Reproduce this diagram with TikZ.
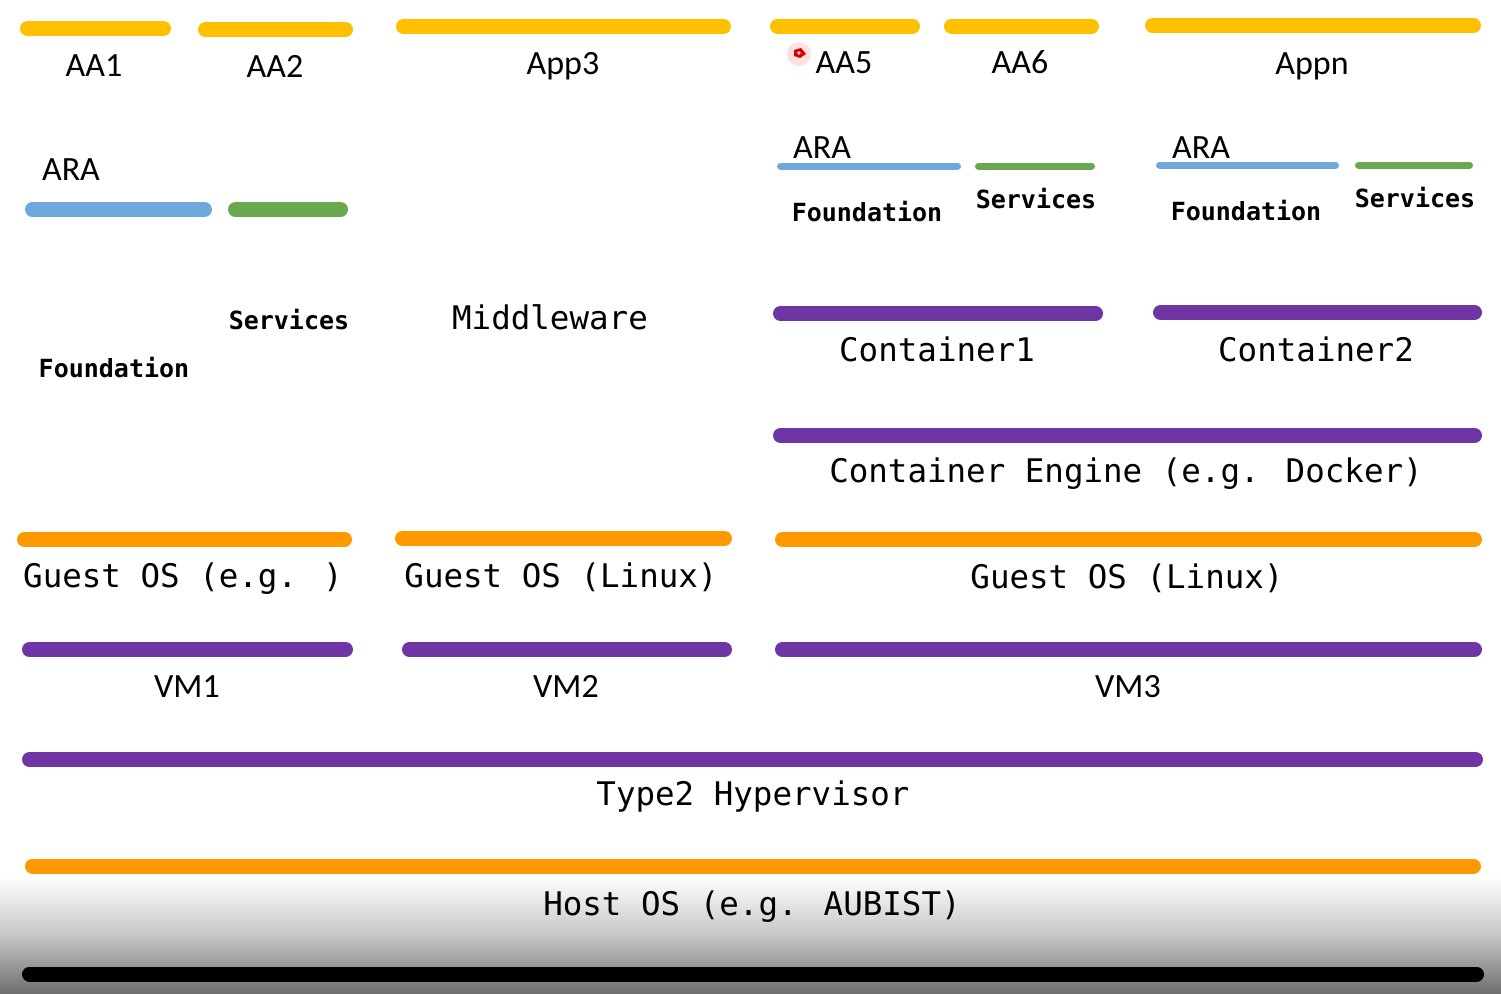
\documentclass[tikz,border=0pt]{standalone}
\usepackage{fontspec}
\setmainfont{Carlito}
\newfontfamily\monofont{DejaVu Sans Mono}
\definecolor{yel}{HTML}{FFC000}
\definecolor{org}{HTML}{FF9900}
\definecolor{pur}{HTML}{7035A5}
\definecolor{blu}{HTML}{6FA8DC}
\definecolor{grn}{HTML}{6AA84F}
\definecolor{shadegray}{HTML}{707070}
\tikzset{
  bar/.style={line width=15, line cap=round},
  thinbar/.style={line width=7, line cap=round},
  sanslbl/.style={font=\fontsize{34}{40}\selectfont, anchor=base, inner sep=0},
  monolbl/.style={font=\monofont\fontsize{32.5}{38}\selectfont, anchor=base, inner sep=0},
  monob/.style={font=\monofont\bfseries\fontsize{25}{30}\selectfont, anchor=base, inner sep=0},
}
\begin{document}
\begin{tikzpicture}[x=1pt,y=-1pt]
\useasboundingbox (0,0) rectangle (1501,993);
\fill[white] (0,0) rectangle (1501,993);
\shade[top color=white, bottom color=shadegray, middle color=black!22] (0,876) rectangle (1501,993);

% top application bars
\draw[bar,yel] (27.5,28.5) -- (163.5,28.5);
\draw[bar,yel] (205.5,29.5) -- (345.5,29.5);
\draw[bar,yel] (403.5,26.5) -- (723.5,26.5);
\draw[bar,yel] (777.5,26) -- (912.5,26);
\draw[bar,yel] (951.5,26) -- (1091.5,26);
\draw[bar,yel] (1152.5,25.5) -- (1473.5,25.5);
\node[sanslbl] (aa1) at (94,76) {AA1};
\node[sanslbl] (aa2) at (275,77) {AA2};
\node[sanslbl] (app3) at (563,74) {App3};
\node[sanslbl] (aa5) at (844,73) {AA5};
\node[sanslbl] (aa6) at (1020,73) {AA6};
\node[sanslbl] (appn) at (1312,74) {Appn};

% red pointer mark
\fill[red!12] (799,54) circle (12);
\fill[red!85!black] (794,50) -- (801,48) -- (806,54) -- (800,58) -- (794,56) -- cycle;
\fill[red!20] (799,53) circle (1.8);

% left ARA
\node[sanslbl] (araL) at (71,180) {ARA};
\draw[bar,blu] (32.5,209.5) -- (204.5,209.5);
\draw[bar,grn] (235.5,209.5) -- (340.5,209.5);
\node[monob] (svcL) at (289,329) {Services};
\node[monob] (fndL) at (114,377) {Foundation};

% middleware
\node[monolbl] (mw) at (550,329) {Middleware};

% right ARA groups
\node[sanslbl] (araR1) at (822,158) {ARA};
\draw[thinbar,blu] (780.5,166) -- (957.5,166);
\draw[thinbar,grn] (978.5,166) -- (1091.5,166);
\node[monob] (fndR1) at (867,221) {Foundation};
\node[monob] (svcR1) at (1036,208) {Services};
\node[sanslbl] (araR2) at (1201,158) {ARA};
\draw[thinbar,blu] (1159.5,165) -- (1335.5,165);
\draw[thinbar,grn] (1358.5,165) -- (1469.5,165);
\node[monob] (fndR2) at (1246,220) {Foundation};
\node[monob] (svcR2) at (1415,207) {Services};

% containers
\draw[bar,pur] (780.5,313.5) -- (1095.5,313.5);
\draw[bar,pur] (1160.5,312.5) -- (1474.5,312.5);
\node[monolbl] (c1) at (937,361) {Container1};
\node[monolbl] (c2) at (1316,361) {Container2};
\draw[bar,pur] (780.5,435.5) -- (1474.5,435.5);
\node[monolbl] (ce) at (1126,482) {Container Engine (e.g. Docker)};

% guest OS
\draw[bar,org] (24.5,539.5) -- (344.5,539.5);
\draw[bar,org] (402.5,538.5) -- (724.5,538.5);
\draw[bar,org] (782.5,539.5) -- (1474.5,539.5);
\node[monolbl] (g1) at (183,587) {Guest OS (e.g. )};
\node[monolbl] (g2) at (561,587) {Guest OS (Linux)};
\node[monolbl] (g3) at (1127,588) {Guest OS (Linux)};

% VMs
\draw[bar,pur] (29.5,649.5) -- (345.5,649.5);
\draw[bar,pur] (409.5,649.5) -- (724.5,649.5);
\draw[bar,pur] (782.5,649.5) -- (1474.5,649.5);
\node[sanslbl] (vm1) at (187,697) {VM1};
\node[sanslbl] (vm2) at (566,697) {VM2};
\node[sanslbl] (vm3) at (1128,697) {VM3};

% hypervisor
\draw[bar,pur] (29.5,759.5) -- (1475.5,759.5);
\node[monolbl] (hv) at (753,805) {Type2 Hypervisor};

% host OS
\draw[bar,org] (32.5,866) -- (1473.5,866);
\node[monolbl] (host) at (752,915) {Host OS (e.g. AUBIST)};

% hardware line
\draw[bar,black] (29.5,974) -- (1476.5,974);
\end{tikzpicture}
\end{document}
